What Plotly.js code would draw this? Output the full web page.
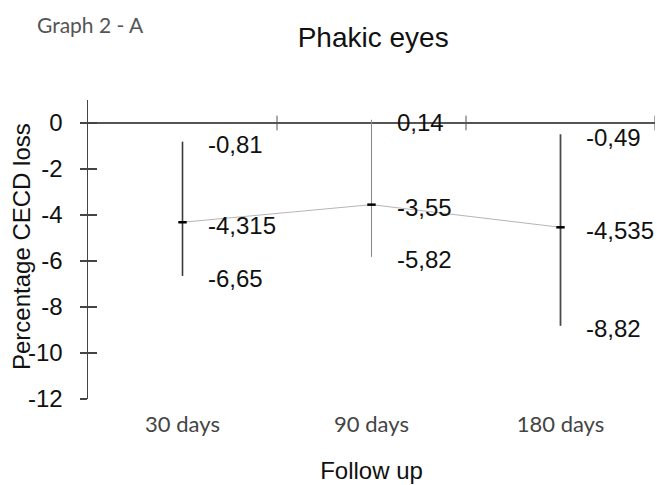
<!DOCTYPE html>
<html>
<head>
<meta charset="utf-8">
<script src="https://cdn.plot.ly/plotly-3.0.1.min.js"></script>
<style>html,body{margin:0;padding:0;background:#fff;}#chart{width:657px;height:485px;}</style>
</head>
<body>
<div id="chart"></div>
<script>
// Data
const categories = ["30 days", "90 days", "180 days"];
const meanValues = [-4.315, -3.55, -4.535];
const upperValues = [-0.81, 0.14, -0.49];
const lowerValues = [-6.65, -5.82, -8.82];
const yTickVals = [0, -2, -4, -6, -8, -10, -12];

// Styles (not data)
const errColors = ["#3a3a3a", "#8a8a8a", "#4a4a4a"];
const errWidths = [1.6, 1.1, 1.8];

function fmt(v) { return String(v).replace(".", ","); }

const idx = categories.map((c, i) => i);
const traces = [];

// mean line
traces.push({
  x: idx, y: meanValues, type: "scatter", mode: "lines",
  line: { color: "#b5b5b5", width: 1 }, hoverinfo: "skip", showlegend: false
});

// per-category error bars + markers
idx.forEach(i => {
  traces.push({
    x: [i], y: [meanValues[i]], type: "scatter", mode: "markers",
    marker: { symbol: "line-ew-open", size: 6, color: "#000", line: { color: "#000", width: 2.5 } },
    error_y: {
      type: "data", symmetric: false,
      array: [upperValues[i] - meanValues[i]],
      arrayminus: [meanValues[i] - lowerValues[i]],
      width: 0, thickness: errWidths[i], color: errColors[i]
    },
    showlegend: false, hoverinfo: "skip"
  });
});

// value labels
const annotations = [];
idx.forEach(i => {
  [upperValues[i], meanValues[i], lowerValues[i]].forEach(v => {
    annotations.push({
      x: i, y: v, xref: "x", yref: "y", text: fmt(v), showarrow: false,
      xanchor: "left", yanchor: "middle", xshift: 23, yshift: -3,
      font: { family: "Liberation Sans, Arial, sans-serif", size: 24, color: "#111" }
    });
  });
});
// small heading at top-left
annotations.push({
  x: (35 - 88) / 567, y: (399 - 25) / 299, xref: "paper", yref: "paper", showarrow: false,
  text: "Graph 2 - A", xanchor: "left", yanchor: "middle",
  font: { family: "Lato, sans-serif", size: 21, color: "#555" }
});
// y axis title
annotations.push({
  x: (21 - 88) / 567, y: (399 - 247) / 299, xref: "paper", yref: "paper", showarrow: false,
  text: "Percentage CECD loss", textangle: -90, xanchor: "center", yanchor: "middle",
  font: { family: "Liberation Sans, Arial, sans-serif", size: 24, color: "#111" }
});

// tick marks on the zero line at category boundaries
const shapes = idx.map(i => ({
  type: "line", xref: "x", yref: "y", x0: i + 0.5, x1: i + 0.5, y0: -0.32, y1: 0.32,
  line: { color: "#555", width: 1 }
}));

const layout = {
  width: 657, height: 485,
  margin: { l: 88, r: 2, t: 100, b: 86 },
  paper_bgcolor: "#fff", plot_bgcolor: "#fff",
  title: {
    text: "Phakic eyes", x: 0.568, xanchor: "center", y: 0.924, yanchor: "middle",
    font: { family: "Liberation Sans, Arial, sans-serif", size: 28, color: "#111" }
  },
  xaxis: {
    range: [-0.5, 2.5], tickvals: idx, ticktext: categories,
    showgrid: false, zeroline: false, showline: false, ticks: "",
    ticklabelstandoff: 10,
    tickfont: { family: "Lato, sans-serif", size: 22, color: "#444" },
    title: { text: "Follow up", standoff: 26,
      font: { family: "Liberation Sans, Arial, sans-serif", size: 24, color: "#111" } }
  },
  yaxis: {
    range: [-12, 1], tickvals: yTickVals, ticktext: yTickVals.map(String),
    showgrid: false, zeroline: true, zerolinecolor: "#555", zerolinewidth: 1.2,
    showline: true, linecolor: "#444", linewidth: 1.5,
    ticks: "outside", ticklen: 7, tickcolor: "#444", tickwidth: 1.2,
    ticklabelstandoff: 12,
    tickfont: { family: "Liberation Sans, Arial, sans-serif", size: 24, color: "#111" }
  },
  yaxis2: {
    range: [-12, 1], overlaying: "y", side: "left", tickvals: yTickVals,
    showticklabels: false, showgrid: false, zeroline: false, showline: false,
    ticks: "inside", ticklen: 9, tickcolor: "#444", tickwidth: 1.2
  },
  annotations: annotations,
  shapes: shapes,
  showlegend: false
};

// invisible trace to activate yaxis2
traces.push({ x: [0], y: [0], yaxis: "y2", type: "scatter", mode: "markers",
  marker: { opacity: 0 }, hoverinfo: "skip", showlegend: false });

Plotly.newPlot("chart", traces, layout, { staticPlot: true, displayModeBar: false });
</script>
</body>
</html>
